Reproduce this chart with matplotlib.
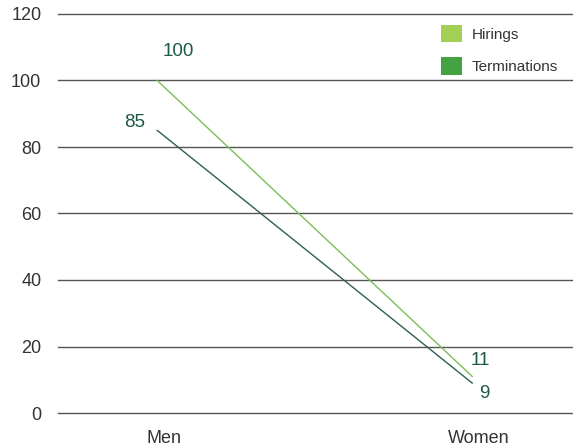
import matplotlib
matplotlib.use("Agg")
import matplotlib.pyplot as plt
from matplotlib.patches import Patch

categories = ["Men", "Women"]
hirings = [100, 11]
terminations = [85, 9]
y_ticks = [0, 20, 40, 60, 80, 100, 120]

plt.rcParams["font.family"] = ["Liberation Sans", "DejaVu Sans"]

fig = plt.figure(figsize=(5.73, 4.48), dpi=100)
ax = fig.add_axes([58 / 573, 1 - 413 / 448, 1 - 58 / 573, (413 - 14) / 448])

hir_color = "#7cbd5a"
ter_color = "#2e5e4e"
label_color = "#1b5a43"

x = list(range(len(categories)))
ax.plot(x, hirings, color=hir_color, lw=1.0, zorder=3)
ax.plot(x, terminations, color=ter_color, lw=1.0, zorder=3)

# value labels beside each end point
offsets_h = [(15, 21), (6, 11.5)]
offsets_t = [(-16, 6), (9, -7.5)]
for i in x:
    ax.annotate(str(hirings[i]), (x[i], hirings[i]), xytext=offsets_h[i], textcoords="offset points",
                ha="center", va="center", fontsize=13.5, color=label_color)
    ax.annotate(str(terminations[i]), (x[i], terminations[i]), xytext=offsets_t[i], textcoords="offset points",
                ha="center", va="center", fontsize=13.5, color=label_color)

ax.set_xlim(-0.315, 1.32)
ax.set_ylim(0, 120)
ax.set_yticks(y_ticks)
ax.set_yticklabels([str(v) for v in y_ticks])
ax.set_xticks([x[0] + 0.02, x[1] + 0.02])
ax.set_xticklabels(categories)

for v in y_ticks:
    ax.axhline(v, color="#555555", lw=1.0, zorder=1, clip_on=False)

for s in ax.spines.values():
    s.set_visible(False)
ax.tick_params(axis="y", length=0, pad=12, labelsize=13, labelcolor="#333333")
ax.tick_params(axis="x", length=0, pad=12, labelsize=13, labelcolor="#333333")

handles = [Patch(facecolor="#a3cf55", edgecolor="none", label="Hirings"),
           Patch(facecolor="#43a342", edgecolor="none", label="Terminations")]
leg = ax.legend(handles=handles, loc="upper left", bbox_to_anchor=((441 - 58) / 515 - 0.005, 0.98),
                frameon=False, fontsize=11, handlelength=1.35, handleheight=1.35, handletextpad=0.6,
                labelspacing=1.0, borderaxespad=0.0, borderpad=0.2)
for t in leg.get_texts():
    t.set_color("#333333")

fig.savefig("out.png", dpi=100)
